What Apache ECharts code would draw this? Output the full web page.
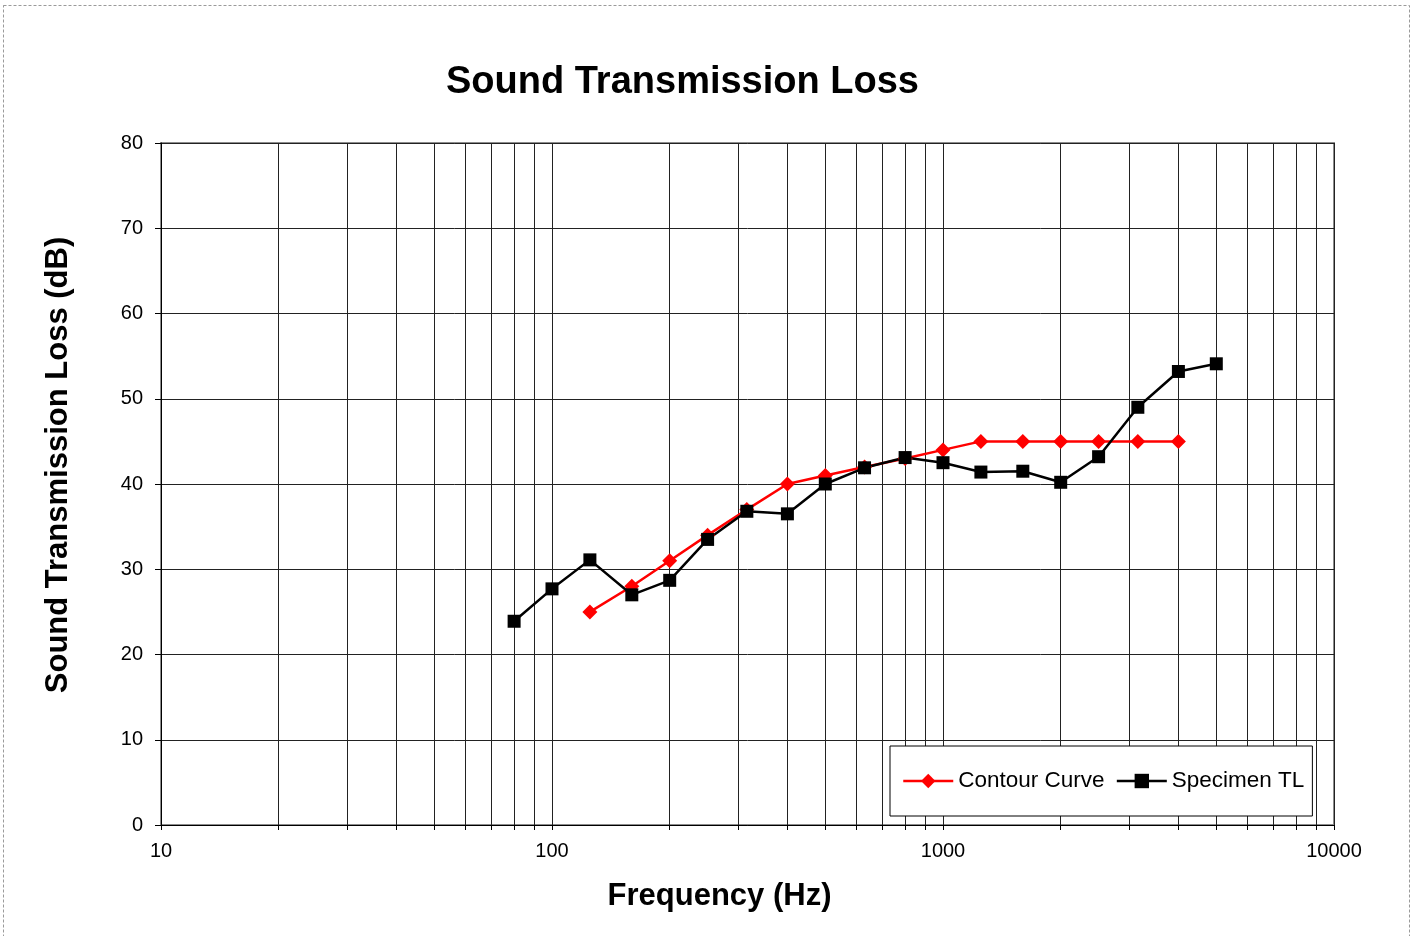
<!DOCTYPE html>
<html>
<head>
<meta charset="utf-8">
<script src="https://cdn.jsdelivr.net/npm/echarts@6/dist/echarts.min.js"></script>
<style>html,body{margin:0;padding:0;background:#fff;}#c{width:1411px;height:936px;}</style>
</head>
<body>
<div id="c"></div>
<script>
var frequencies = [80,100,125,160,200,250,315,400,500,630,800,1000,1250,1600,2000,2500,3150,4000,5000];
var specimenTL = [23.9,27.7,31.1,27.0,28.7,33.5,36.8,36.5,40.0,41.9,43.1,42.5,41.4,41.5,40.2,43.2,49.0,53.2,54.1];
var contourFrequencies = [125,160,200,250,315,400,500,630,800,1000,1250,1600,2000,2500,3150,4000];
var contourCurve = [25,28,31,34,37,40,41,42,43,44,45,45,45,45,45,45];
var xLabelValues = [10,100,1000,10000];
var xGridValues = [10,20,30,40,50,60,70,80,90,100,200,300,400,500,600,700,800,900,1000,2000,3000,4000,5000,6000,7000,8000,9000,10000];

function pairs(xs, ys){ return xs.map(function(x,i){ return [x, ys[i]]; }); }

var chart = echarts.init(document.getElementById('c'));
var font = 'Liberation Sans, Arial, sans-serif';
chart.setOption({
  animation: false,
  backgroundColor: '#fff',
  graphic: [{
    type: 'rect', silent: true, z: -1,
    shape: {x: 3.5, y: 5.5, width: 1406, height: 1000},
    style: {fill: 'none', stroke: '#9a9a9a', lineWidth: 1, lineDash: [3, 2]}
  }],
  title: {
    text: 'Sound Transmission Loss',
    left: 441, top: 59,
    textStyle: {fontFamily: font, fontSize: 38, fontWeight: 'bold', color: '#000'}
  },
  grid: {left: 161, top: 143, right: 77, bottom: 111, show: true, borderColor: '#8c8c8c', borderWidth: 2, backgroundColor: 'transparent'},
  legend: {
    left: 890, top: 746,
    orient: 'horizontal',
    padding: [23, 8, 23, 12],
    itemWidth: 50, itemHeight: 18, itemGap: 11,
    borderColor: '#000', borderWidth: 1, backgroundColor: '#fff',
    lineStyle: {width: 2.5},
    textStyle: {fontFamily: font, fontSize: 22.5, color: '#000', lineHeight: 24},
    data: ['Contour Curve', 'Specimen TL']
  },
  xAxis: {
    type: 'log', logBase: 10, min: 10, max: 10000,
    name: 'Frequency (Hz)', nameLocation: 'middle', nameGap: 56,
    nameTextStyle: {fontFamily: font, fontSize: 31, fontWeight: 'bold', color: '#000', padding: [0, 56, 0, 0]},
    axisLine: {show: true, lineStyle: {color: '#000', width: 1}},
    axisTick: {show: true, inside: false, length: 5, customValues: xGridValues, lineStyle: {color: '#000'}},
    axisLabel: {customValues: xLabelValues, margin: 16, fontFamily: font, fontSize: 20, color: '#000',
      formatter: function(v){ return String(Math.round(v)); }},
    splitLine: {show: true, lineStyle: {color: '#222', width: 1}},
    minorTick: {show: false}, minorSplitLine: {show: false}
  },
  yAxis: {
    type: 'value', min: 0, max: 80, interval: 10,
    name: 'Sound Transmission Loss (dB)', nameLocation: 'middle', nameGap: 87, nameRotate: 90,
    nameTextStyle: {fontFamily: font, fontSize: 31, fontWeight: 'bold', color: '#000', padding: [0, 0, 0, 38]},
    axisLine: {show: true, lineStyle: {color: '#000', width: 1}},
    axisTick: {show: true, inside: false, length: 6, lineStyle: {color: '#000'}},
    axisLabel: {margin: 18, fontFamily: font, fontSize: 20, color: '#000'},
    splitLine: {show: true, lineStyle: {color: '#222', width: 1}}
  },
  series: [{
    name: 'Contour Curve', type: 'line',
    data: pairs(contourFrequencies, contourCurve),
    symbol: 'diamond', symbolSize: 15,
    lineStyle: {color: '#ff0000', width: 2.5},
    itemStyle: {color: '#ff0000'}
  }, {
    name: 'Specimen TL', type: 'line',
    data: pairs(frequencies, specimenTL),
    symbol: 'rect', symbolSize: 13,
    lineStyle: {color: '#000', width: 2.5},
    itemStyle: {color: '#000'}
  }]
});
</script>
</body>
</html>
